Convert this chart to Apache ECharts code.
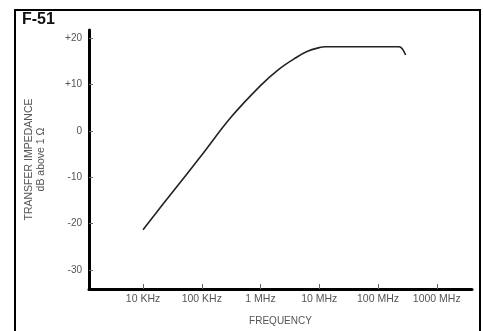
<!DOCTYPE html>
<html>
<head>
<meta charset="utf-8">
<script src="https://cdn.jsdelivr.net/npm/echarts@6/dist/echarts.min.js"></script>
<style>
  html, body { margin: 0; padding: 0; background: #fff; }
  #chart { width: 483px; height: 331px; }
</style>
</head>
<body>
<div id="chart"></div>
<script>
// log10 of frequency in Hz
const logFreq = [4.0, 4.5, 5.0, 5.5, 6.0, 6.3, 6.6, 6.8, 7.0, 7.1, 7.8, 8.36, 8.42, 8.47];
const impedanceDb = [-21.3, -13.2, -5.2, 3.0, 9.8, 13.2, 15.8, 17.2, 18.0, 18.2, 18.2, 18.2, 17.6, 16.4];

const freqTicks = [4, 5, 6, 7, 8, 9];
const freqLabels = ["10 KHz", "100 KHz", "1 MHz", "10 MHz", "100 MHz", "1000 MHz"];
const dbTicks = [-30, -20, -10, 0, 10, 20];

const chart = echarts.init(document.getElementById("chart"));

const font = "Liberation Sans";

chart.setOption({
  animation: false,
  graphic: [
    {
      type: "rect",
      shape: { x: 15, y: 10, width: 465, height: 340 },
      style: { fill: null, stroke: "#000", lineWidth: 2 },
    },
    {
      type: "text",
      left: 22,
      top: 12,
      style: { text: "F-51", font: "bold 16px Liberation Sans", fill: "#111" },
    },
  ],
  grid: { left: 89, right: 11, top: 30, bottom: 41, containLabel: false },
  xAxis: {
    type: "value",
    min: 3.08,
    max: 9.6,
    name: "FREQUENCY",
    nameLocation: "middle",
    nameGap: 27,
    nameTextStyle: { color: "#555", fontSize: 10, fontFamily: font },
    axisLine: { onZero: false, lineStyle: { color: "#000", width: 3 } },
    axisTick: { show: true, inside: true, length: 5, lineStyle: { color: "#666", width: 1 }, customValues: freqTicks },
    axisLabel: {
      color: "#555",
      fontSize: 10.5,
      fontFamily: font,
      margin: 5,
      customValues: freqTicks,
      formatter: (v) => freqLabels[freqTicks.indexOf(Math.round(v))],
    },
    splitLine: { show: false },
  },
  yAxis: {
    type: "value",
    min: -34.1,
    max: 21.8,
    name: "TRANSFER IMPEDANCE\ndB above 1 Ω",
    nameLocation: "middle",
    nameGap: 42,
    nameRotate: 90,
    nameTextStyle: { color: "#555", fontSize: 10.5, fontFamily: font, lineHeight: 12 },
    axisLine: { show: true, onZero: false, lineStyle: { color: "#000", width: 3 } },
    axisTick: { show: true, inside: true, length: 4, lineStyle: { color: "#666", width: 1 }, customValues: dbTicks },
    axisLabel: {
      color: "#555",
      fontSize: 10,
      fontFamily: font,
      margin: 7,
      customValues: dbTicks,
      formatter: (v) => (v > 0 ? "+" + v : String(v)),
    },
    splitLine: { show: false },
  },
  series: [
    {
      type: "line",
      data: logFreq.map((f, i) => [f, impedanceDb[i]]),
      smooth: 0.4,
      showSymbol: false,
      lineStyle: { color: "#222", width: 1.6 },
    },
  ],
});
</script>
</body>
</html>
